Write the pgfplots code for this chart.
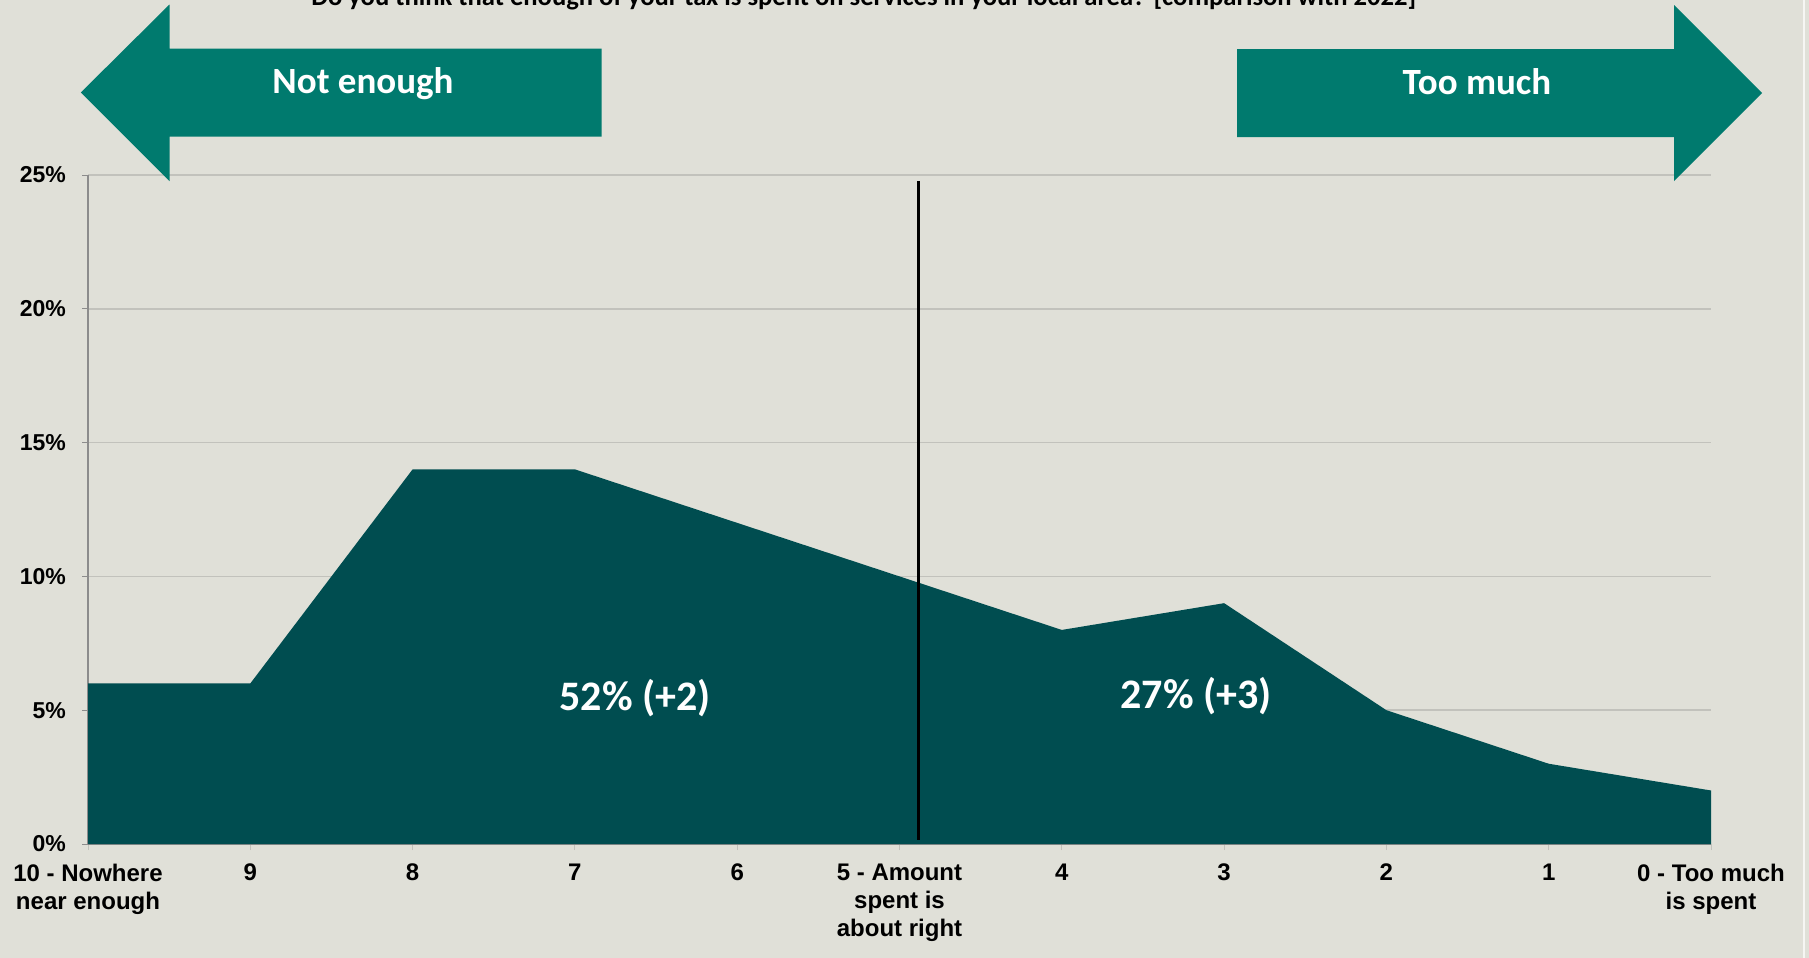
\documentclass[border=0pt]{standalone}
\usepackage{pgfplots}
\pgfplotsset{compat=1.18}
\usepackage{fontspec}
\setmainfont{Liberation Sans}
\newfontfamily\calibri{Carlito}
\definecolor{bg}{HTML}{E0E0D8}
\definecolor{arrowc}{HTML}{007A6E}
\definecolor{areac}{HTML}{004D50}
\definecolor{gridc}{HTML}{C2C2BC}
\definecolor{axisc}{HTML}{8C8C8C}
\begin{document}
\begin{tikzpicture}
\begin{scope}[x=0.5pt,y=-0.5pt]
\clip (0,0) rectangle (1809,958);
\fill[bg] (0,0) rectangle (1809,958);
\draw[white!70!bg, line width=0.6pt] (1804,0) -- (1804,958);
\end{scope}
\begin{axis}[
  at={(44pt,-422pt)}, anchor=south west,
  scale only axis, width=811.5pt, height=334.5pt,
  xmin=0, xmax=10, ymin=0, ymax=25,
  axis x line*=bottom, axis y line*=left,
  x axis line style={draw=axisc, line width=0.5pt},
  y axis line style={draw=axisc, line width=0.6pt},
  xtick={0,...,10},
  xticklabels={{10 - Nowhere\\near enough},9,8,7,6,{5 - Amount\\spent is\\about right},4,3,2,1,{0 - Too much\\is spent}},
  ytick={0,5,10,15,20,25},
  yticklabels={0\%,5\%,10\%,15\%,20\%,25\%},
  tick align=outside, major tick length=3pt,
  x tick style={draw=gridc, line width=0.5pt},
  y tick style={draw=axisc, line width=0.5pt},
  ymajorgrids, grid style={draw=gridc, line width=0.8pt},
  xticklabel style={font=\bfseries\fontsize{12}{14}\selectfont, align=center, anchor=north, yshift=-3.5pt},
  yticklabel style={font=\bfseries\fontsize{11.5}{13}\selectfont, xshift=-4.5pt},
  clip=false,
]
\addplot[fill=areac, draw=none] coordinates {
 (0,6) (1,6) (2,14) (3,14) (4,12) (5,10) (6,8) (7,9) (8,5) (9,3) (10,2)
} \closedcycle;
\draw[black, line width=1.5pt] (axis cs:5.114,24.78) -- (axis cs:5.114,0.15);
\node[anchor=base, text=white, font=\calibri\bfseries\fontsize{21}{24}\selectfont] at (axis cs:3.37,4.98) {52\% (+2)};
\node[anchor=base, text=white, font=\calibri\bfseries\fontsize{21}{24}\selectfont] at (axis cs:6.827,5.05) {27\% (+3)};
\end{axis}
\begin{scope}[x=0.5pt,y=-0.5pt]
\fill[arrowc] (80.8,92.5) -- (169.5,4.5) -- (169.5,48.5) -- (601.5,48.5) -- (601.5,136.5) -- (169.5,136.5) -- (169.5,181) -- cycle;
\fill[arrowc] (1762,93) -- (1674,5) -- (1674,49) -- (1237,49) -- (1237,137) -- (1674,137) -- (1674,181) -- cycle;
\node[anchor=base, text=white, font=\calibri\bfseries\fontsize{18.5}{22}\selectfont] at (363,93.5) {Not enough};
\node[anchor=base, text=white, font=\calibri\bfseries\fontsize{18.5}{22}\selectfont] at (1477,94.3) {Too much};
\node[anchor=base, font=\calibri\bfseries\fontsize{13.3}{15}\selectfont] at (863.6,5) {Do you think that enough of your tax is spent on services in your local area? [comparison with 2022]};
\end{scope}
\pgfresetboundingbox
\path[use as bounding box] (0,0) rectangle (904.5pt,-479pt);
\end{tikzpicture}
\end{document}
